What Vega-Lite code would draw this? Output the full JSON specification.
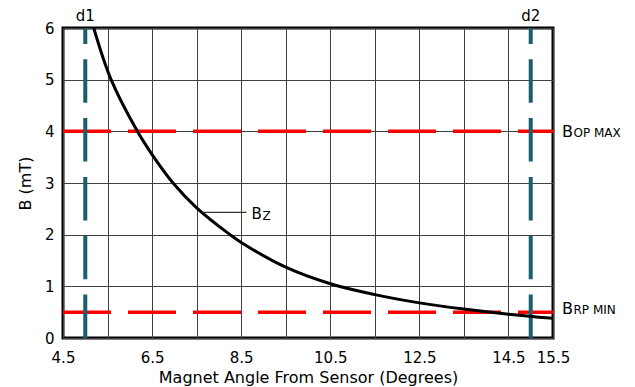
{
  "$schema": "https://vega.github.io/schema/vega-lite/v6.json",
  "width": 490,
  "height": 310,
  "autosize": {"type": "none"},
  "padding": {"left": 63, "top": 28, "right": 82, "bottom": 49},
  "background": "white",
  "config": {
    "font": "DejaVu Sans",
    "view": {"stroke": "black", "strokeWidth": 3},
    "axis": {
      "labelFont": "DejaVu Sans",
      "titleFont": "DejaVu Sans",
      "labelFontSize": 15,
      "titleFontSize": 16,
      "titleFontWeight": "normal",
      "labelColor": "black",
      "titleColor": "black",
      "ticks": false,
      "tickSize": 0,
      "domain": false,
      "grid": true,
      "gridColor": "#404040",
      "gridWidth": 1,
      "gridOpacity": 1,
      "labelFlush": false
    }
  },
  "datasets": {
    "curve": [
      {"angle": 5.19, "B": 6.0},
      {"angle": 5.58, "B": 5.0},
      {"angle": 6.17, "B": 4.0},
      {"angle": 6.5, "B": 3.55},
      {"angle": 6.97, "B": 3.0},
      {"angle": 7.5, "B": 2.52},
      {"angle": 8.25, "B": 2.0},
      {"angle": 8.5, "B": 1.85},
      {"angle": 9.5, "B": 1.37},
      {"angle": 10.5, "B": 1.05},
      {"angle": 11.5, "B": 0.84},
      {"angle": 12.5, "B": 0.68},
      {"angle": 13.5, "B": 0.56},
      {"angle": 14.5, "B": 0.46},
      {"angle": 15.5, "B": 0.38}
    ],
    "dlines": [
      {"name": "d1", "angle": 5},
      {"name": "d2", "angle": 15}
    ],
    "thresholds": [
      {"name": "OP MAX", "B": 4},
      {"name": "RP MIN", "B": 0.5}
    ],
    "bz": [
      {"angle": 7.63, "angle2": 8.62, "B": 2.43}
    ]
  },
  "layer": [
    {
      "data": {"name": "curve"},
      "mark": {"type": "line", "color": "black", "strokeWidth": 3, "interpolate": "catmull-rom", "clip": true, "opacity": 0},
      "encoding": {
        "x": {
          "field": "angle", "type": "quantitative",
          "scale": {"domain": [4.5, 15.5], "nice": false, "zero": false},
          "axis": {
            "title": "Magnet Angle From Sensor (Degrees)",
            "values": [4.5, 5.5, 6.5, 7.5, 8.5, 9.5, 10.5, 11.5, 12.5, 13.5, 14.5, 15.5],
            "format": ".1f",
            "labelExpr": "((datum.value - 4.5) % 2 == 0 || datum.value == 15.5) ? datum.label : ''",
            "labelOverlap": false,
            "labelPadding": 12,
            "titlePadding": 4
          }
        },
        "y": {
          "field": "B", "type": "quantitative",
          "scale": {"domain": [0, 6], "nice": false},
          "axis": {
            "title": "B (mT)",
            "values": [0, 1, 2, 3, 4, 5, 6],
            "labelPadding": 9,
            "titlePadding": 11
          }
        }
      }
    },
    {
      "data": {"name": "thresholds"},
      "mark": {"type": "rule", "color": "#ff0000", "strokeWidth": 3.5, "strokeDash": [48, 17]},
      "encoding": {
        "y": {"field": "B", "type": "quantitative"},
        "x": {"datum": 4.5},
        "x2": {"datum": 15.5}
      }
    },
    {
      "data": {"name": "dlines"},
      "mark": {"type": "rule", "color": "#1a5f6e", "strokeWidth": 4, "strokeDash": [43.5, 15.3]},
      "encoding": {
        "x": {"field": "angle", "type": "quantitative"},
        "y": {"datum": 0},
        "y2": {"datum": 6}
      }
    },
    {
      "data": {"name": "curve"},
      "mark": {"type": "line", "color": "black", "strokeWidth": 3, "interpolate": "catmull-rom", "clip": true},
      "encoding": {
        "x": {"field": "angle", "type": "quantitative"},
        "y": {"field": "B", "type": "quantitative"}
      }
    },
    {
      "data": {"name": "dlines"},
      "mark": {"type": "text", "fontSize": 15, "align": "center", "baseline": "alphabetic", "dy": -7.5, "color": "black"},
      "encoding": {
        "x": {"field": "angle", "type": "quantitative"},
        "y": {"datum": 6},
        "text": {"field": "name"}
      }
    },
    {
      "data": {"name": "thresholds"},
      "transform": [{"filter": "datum.name == 'OP MAX'"}],
      "layer": [
        {
          "mark": {"type": "text", "fontSize": 16, "align": "left", "baseline": "alphabetic", "dx": 9, "dy": 5.5, "color": "black", "text": "B"},
          "encoding": {"x": {"datum": 15.5}, "y": {"field": "B", "type": "quantitative"}}
        },
        {
          "mark": {"type": "text", "fontSize": 12, "align": "left", "baseline": "alphabetic", "dx": 20.5, "dy": 5.5, "color": "black"},
          "encoding": {"x": {"datum": 15.5}, "y": {"field": "B", "type": "quantitative"}, "text": {"field": "name"}}
        }
      ]
    },
    {
      "data": {"name": "thresholds"},
      "transform": [{"filter": "datum.name == 'RP MIN'"}],
      "layer": [
        {
          "mark": {"type": "text", "fontSize": 16, "align": "left", "baseline": "alphabetic", "dx": 9, "dy": 2.3, "color": "black", "text": "B"},
          "encoding": {"x": {"datum": 15.5}, "y": {"field": "B", "type": "quantitative"}}
        },
        {
          "mark": {"type": "text", "fontSize": 12, "align": "left", "baseline": "alphabetic", "dx": 20.5, "dy": 2.3, "color": "black"},
          "encoding": {"x": {"datum": 15.5}, "y": {"field": "B", "type": "quantitative"}, "text": {"field": "name"}}
        }
      ]
    },
    {
      "data": {"name": "bz"},
      "layer": [
        {
          "mark": {"type": "rule", "color": "#333333", "strokeWidth": 1.2},
          "encoding": {
            "x": {"field": "angle", "type": "quantitative"},
            "x2": {"field": "angle2"},
            "y": {"field": "B", "type": "quantitative"}
          }
        },
        {
          "mark": {"type": "text", "fontSize": 15, "align": "left", "baseline": "alphabetic", "dx": 5, "dy": 6.5, "color": "black", "text": "B"},
          "encoding": {"x": {"field": "angle2", "type": "quantitative"}, "y": {"field": "B", "type": "quantitative"}}
        },
        {
          "mark": {"type": "text", "fontSize": 12, "align": "left", "baseline": "alphabetic", "dx": 16, "dy": 8, "color": "black", "text": "Z"},
          "encoding": {"x": {"field": "angle2", "type": "quantitative"}, "y": {"field": "B", "type": "quantitative"}}
        }
      ]
    }
  ]
}
